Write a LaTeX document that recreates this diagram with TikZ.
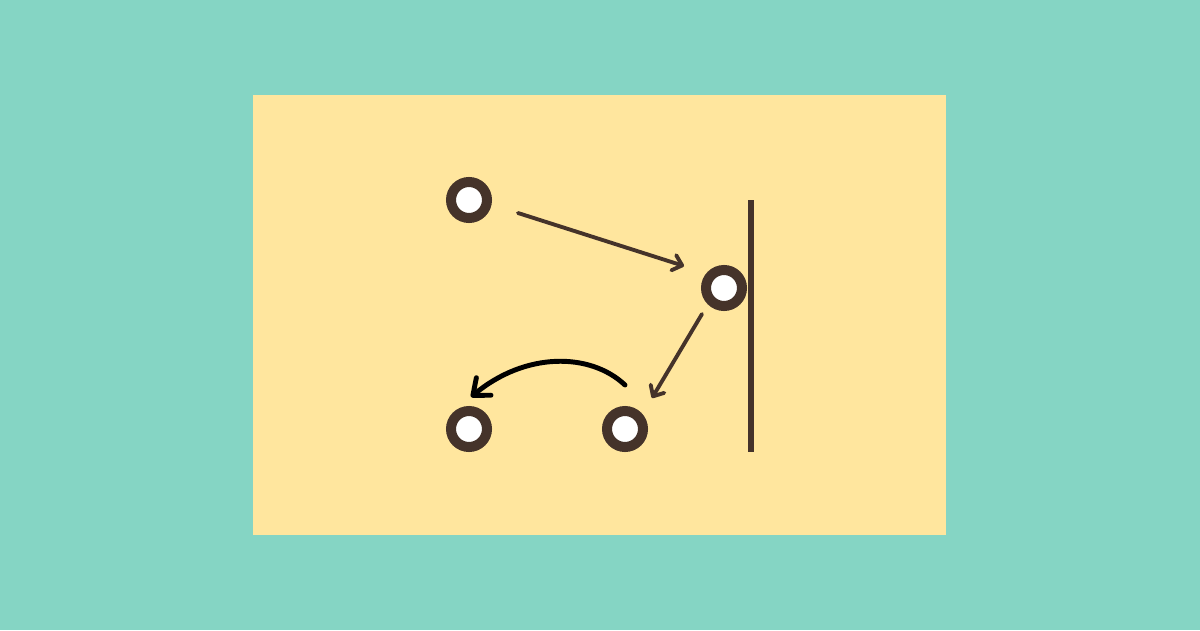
\documentclass[tikz,border=0pt]{standalone}
\usetikzlibrary{arrows.meta}
\definecolor{sea}{HTML}{85D5C4}
\definecolor{sand}{HTML}{FFE69E}
\definecolor{bark}{HTML}{45332A}
\begin{document}
\begin{tikzpicture}[x=0.02cm,y=0.02cm,
  ball/.style={circle,draw=bark,fill=white,line width=5.7pt,minimum size=0.72cm,inner sep=0pt,outer sep=0.1cm},
  push/.style={draw=bark,line width=2.2pt,line cap=round,-{Straight Barb[length=5pt,width=9pt,round]}},
  swing/.style={draw=black,line width=2.8pt,line cap=round,-{Straight Barb[length=8pt,width=13pt,round]}}]
\fill[sea] (0,0) rectangle (1200,630);
\fill[sand] (253,95) rectangle (946,535);
% the wall
\draw[bark,line width=3.2pt] (751,430) -- (751,178);
\node[ball] (b1) at (469,430) {};
\node[ball] (b2) at (724,342) {};
\node[ball] (b3) at (469,201) {};
\node[ball] (b4) at (625,201) {};
\draw[push] ([xshift=0.98cm,yshift=-0.26cm]b1.center) -- ([xshift=-0.8cm,yshift=0.44cm]b2.center);
\draw[push] ([xshift=-0.44cm,yshift=-0.52cm]b2.center) -- ([xshift=0.54cm,yshift=0.62cm]b4.center);
\draw[swing] ([yshift=0.88cm]b4.center) .. controls (590,278) and (525,278) .. ([xshift=0.04cm,yshift=0.64cm]b3.center);
\end{tikzpicture}
\end{document}
